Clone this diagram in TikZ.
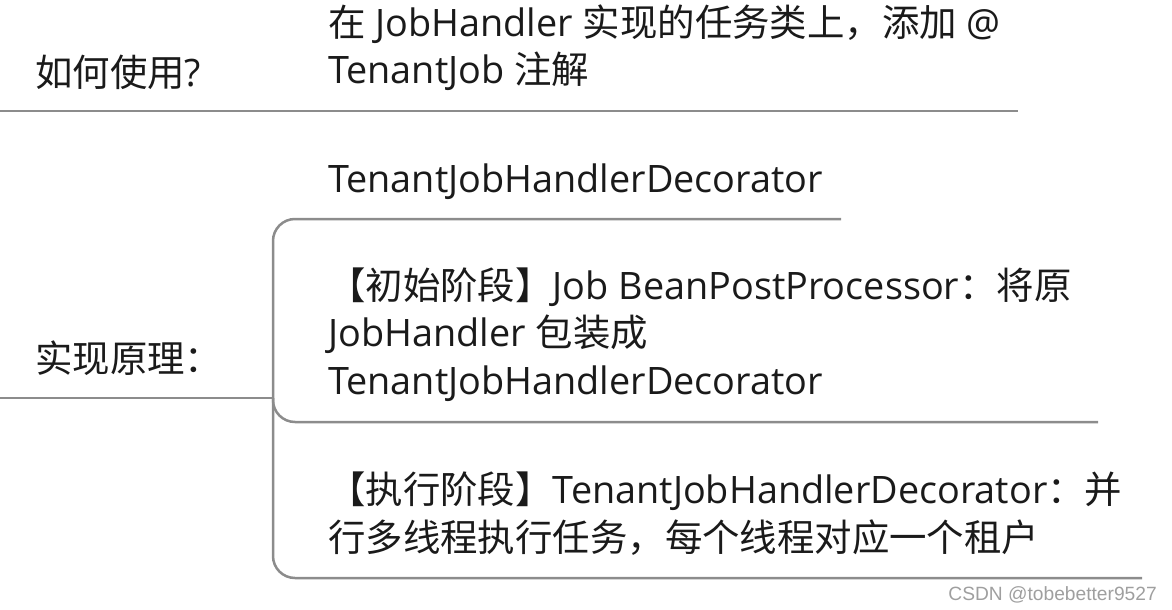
\documentclass[tikz,border=0pt]{standalone}
\usepackage{fontspec}
\setmainfont{Open Sans}
\newfontfamily\cjk[Scale = 0.99]{Noto Sans CJK SC}
\newfontfamily\wmfont{Liberation Sans}
\definecolor{branch}{RGB}{140,140,140}
\definecolor{ink}{RGB}{26,26,26}
\tikzset{
	topic/.style = {anchor = base west, inner sep = 0pt, align = left, text = ink, font = \fontsize{37.8}{47.5}\selectfont},
	branchline/.style = {draw = branch, line width = 2.5pt, rounded corners = 22pt},
}

\begin{document}
\begin{tikzpicture}[x = 1pt, y = -1pt]
	\useasboundingbox (0,0) rectangle (1172,610);
	\node (use) at (35,86) [topic] {{\cjk 如何使用}?};
	\node (useans) at (328,84) [topic] {{\cjk 在} JobHandler {\cjk 实现的任务类上，添加} @\\TenantJob {\cjk 注解}};
	\node (impl) at (35,372) [topic] {\cjk 实现原理：};
	\node (dec) at (328,192) [topic] {TenantJobHandlerDecorator};
	\node (init) at (328,394) [topic] {{\cjk 【初始阶段】}Job BeanPostProcessor{\cjk ：将原}\\JobHandler {\cjk 包装成}\\TenantJobHandlerDecorator};
	\node (exec) at (328,551) [topic] {{\cjk 【执行阶段】}TenantJobHandlerDecorator{\cjk ：并}\\{\cjk 行多线程执行任务，每个线程对应一个租户}};
	\node (mark) at (1157,600) [anchor = base east, inner sep = 0pt, text = gray!75, font = \wmfont\fontsize{19.2}{19.2}\selectfont] {CSDN @tobebetter9527};
	\coordinate (use-start) at (0,111);
	\coordinate (use-end) at (1018,111);
	\coordinate (impl-start) at (0,398);
	\coordinate (fork) at (273,398);
	\coordinate (dec-end) at (841,219);
	\coordinate (init-end) at (1098,422);
	\coordinate (exec-end) at (1142,578);
	\draw [branchline] (use-start) -- (use-end);
	\draw [branchline] (impl-start) -- (fork);
	\draw [branchline] (fork) |- (dec-end);
	\draw [branchline] (fork) |- (init-end);
	\draw [branchline] (fork) |- (exec-end);
\end{tikzpicture}
\end{document}
